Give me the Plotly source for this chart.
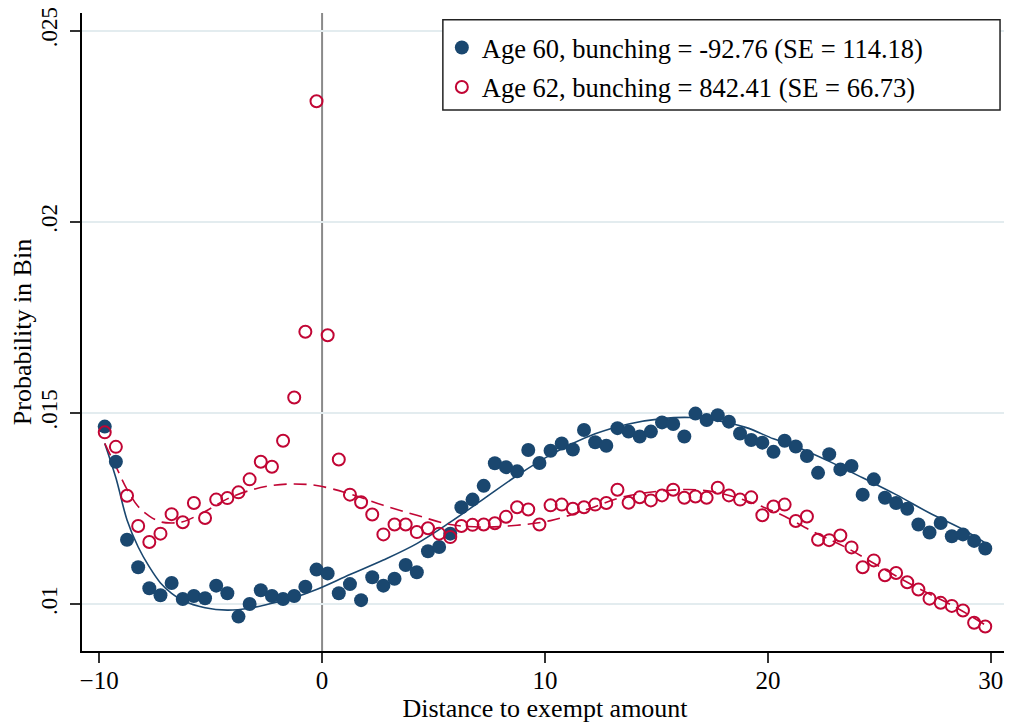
import plotly.graph_objects as go

# ---- data ----
bins = [-9.75 + 0.5 * i for i in range(80)]

age60 = [
    0.01464, 0.01372, 0.01168, 0.01096, 0.01041, 0.01023, 0.01055, 0.01013, 0.01021, 0.01015,
    0.01048, 0.01028, 0.00967, 0.01000, 0.01036, 0.01021, 0.01013, 0.01021, 0.01045, 0.01090,
    0.01080, 0.01028, 0.01052, 0.01010, 0.01070, 0.01048, 0.01066, 0.01102, 0.01083, 0.01138,
    0.01149, 0.01184, 0.01253, 0.01273, 0.01309, 0.01368, 0.01358, 0.01347, 0.01403, 0.01369,
    0.01401, 0.01420, 0.01404, 0.01455, 0.01423, 0.01414, 0.01460, 0.01451, 0.01438, 0.01451,
    0.01475, 0.01471, 0.01438, 0.01498, 0.01481, 0.01494, 0.01477, 0.01446, 0.01429, 0.01422,
    0.01398, 0.01427, 0.01412, 0.01387, 0.01343, 0.01392, 0.01352, 0.01361, 0.01286, 0.01326,
    0.01278, 0.01264, 0.01249, 0.01208, 0.01187, 0.01212, 0.01177, 0.01182, 0.01165, 0.01145,
]

age62 = [
    0.01449, 0.01411, 0.01283, 0.01204, 0.01162, 0.01184, 0.01235, 0.01214, 0.01264, 0.01225,
    0.01273, 0.01277, 0.01292, 0.01326, 0.01372, 0.01359, 0.01427, 0.01540, 0.01712, 0.02315,
    0.01703, 0.01378, 0.01286, 0.01266, 0.01234, 0.01182, 0.01208, 0.01208, 0.01188, 0.01198,
    0.01184, 0.01175, 0.01204, 0.01207, 0.01208, 0.01211, 0.01228, 0.01253, 0.01247, 0.01208,
    0.01258, 0.01260, 0.01249, 0.01253, 0.01260, 0.01264, 0.01299, 0.01265, 0.01279, 0.01271,
    0.01284, 0.01299, 0.01278, 0.01281, 0.01278, 0.01304, 0.01284, 0.01273, 0.01279, 0.01232,
    0.01255, 0.01260, 0.01217, 0.01229, 0.01168, 0.01167, 0.01179, 0.01148, 0.01096, 0.01114,
    0.01075, 0.01081, 0.01057, 0.01038, 0.01014, 0.01003, 0.00995, 0.00983, 0.00951, 0.00941,
]

fit60_x = [-9.75, -9.25, -8.75, -8.25, -7.75, -7.25, -6.75, -6.25, -5.25, -4.25, -3.25, -2.25,
           -1.25, -0.25, 1.25, 2.75, 4.25, 5.75, 7.25, 8.75, 10.25, 12.25, 13.75, 15.25,
           16.5, 17.5, 19.0, 20.25, 21.25, 22.75, 24.25, 25.75, 27.25, 28.75, 29.75]
fit60_y = [0.01420, 0.01330, 0.01220, 0.01149, 0.01097, 0.01055, 0.01028, 0.01009, 0.00990,
           0.00984, 0.00989, 0.01002, 0.01017, 0.01038, 0.01077, 0.01115, 0.01158, 0.01214,
           0.01275, 0.01336, 0.01390, 0.01445, 0.01471, 0.01485, 0.01488, 0.01482, 0.01462,
           0.01432, 0.01412, 0.01373, 0.01330, 0.01286, 0.01238, 0.01195, 0.01160]

fit62_x = [-9.75, -9.25, -8.75, -8.25, -7.75, -7.25, -6.75, -6.25, -5.25, -4.25, -3.25, -2.25,
           -1.25, -0.25, 1.25, 2.75, 4.25, 5.75, 7.25, 8.75, 10.25, 12.0, 13.5, 15.5, 17.0,
           18.5, 20.5, 22.0, 23.5, 25.0, 26.75, 28.5, 29.75]
fit62_y = [0.01420, 0.01360, 0.01300, 0.01255, 0.01230, 0.01215, 0.01212, 0.01215, 0.01242,
           0.01275, 0.01297, 0.01310, 0.01314, 0.01310, 0.01288, 0.01258, 0.01232, 0.01208,
           0.01201, 0.01206, 0.01218, 0.01250, 0.01280, 0.01297, 0.01298, 0.01280, 0.01236,
           0.01190, 0.01148, 0.01098, 0.01041, 0.00989, 0.00945]

x_ticks = [-10, 0, 10, 20, 30]
y_ticks = [0.01, 0.015, 0.02, 0.025]
y_tick_text = [".01", ".015", ".02", ".025"]
cutoff = 0

label60 = "Age 60, bunching = -92.76 (SE = 114.18)"
label62 = "Age 62, bunching = 842.41 (SE = 66.73)"

# ---- styles ----
BLUE = "#1a476f"
RED = "#c10534"
FONT = "Liberation Serif, Times New Roman, serif"

fig = go.Figure()

fig.add_trace(go.Scatter(x=fit60_x, y=fit60_y, mode="lines", showlegend=False,
                         line=dict(color=BLUE, width=1.6, shape="spline", smoothing=1.0),
                         hoverinfo="skip"))
fig.add_trace(go.Scatter(x=fit62_x, y=fit62_y, mode="lines", showlegend=False,
                         line=dict(color=RED, width=1.6, dash="13px,7px", shape="spline", smoothing=1.0),
                         hoverinfo="skip"))
fig.add_trace(go.Scatter(x=bins, y=age60, mode="markers", name=label60, legendgroup="a",
                         marker=dict(color=BLUE, size=14, symbol="circle")))
fig.add_trace(go.Scatter(x=bins, y=age62, mode="markers", name=label62, legendgroup="b",
                         marker=dict(color=RED, size=12, symbol="circle-open",
                                     line=dict(color=RED, width=2))))

fig.add_shape(type="line", xref="x", yref="paper", x0=cutoff, x1=cutoff, y0=0, y1=1,
              line=dict(color="#8a8a8a", width=2), layer="below")

# legend box
fig.add_shape(type="rect", xref="paper", yref="paper", x0=0.3897, x1=0.9914, y0=0.848, y1=0.9895,
              line=dict(color="#222222", width=1.5), fillcolor="white", layer="above")

fig.update_layout(
    width=1004, height=718,
    margin=dict(l=74, r=4, t=5, b=75, autoexpand=False),
    paper_bgcolor="white", plot_bgcolor="white",
    font=dict(family=FONT, size=25, color="black"),
    showlegend=True,
    legend=dict(x=0.3886, y=0.983, xanchor="left", yanchor="top",
                bgcolor="rgba(0,0,0,0)", borderwidth=0,
                font=dict(family=FONT, size=26.5, color="black"),
                tracegroupgap=2, traceorder="grouped", itemwidth=30),
    xaxis=dict(range=[-10.77, 30.77], tickvals=x_ticks, ticks="outside", ticklen=10,
               tickwidth=1.5, tickcolor="#333", showgrid=False, zeroline=False,
               showline=True, linecolor="black", linewidth=1.5, automargin=False,
               ticklabelstandoff=-4,
               tickfont=dict(family=FONT, size=25),
               title=dict(text="Distance to exempt amount", font=dict(family=FONT, size=26), standoff=0)),
    yaxis=dict(range=[0.00877, 0.02546], tickvals=y_ticks, ticktext=y_tick_text,
               ticks="outside", ticklen=10, tickwidth=1.5, tickcolor="#333", tickangle=-90,
               ticklabelstandoff=4, automargin=False, ticklabeloverflow="allow",
               showgrid=True, gridcolor="#e3ecef", gridwidth=1.5, zeroline=False,
               showline=True, linecolor="black", linewidth=1.5,
               tickfont=dict(family=FONT, size=23),
               title=dict(text="Probability in Bin", font=dict(family=FONT, size=26), standoff=3)),
)

fig.write_html("out.html")
